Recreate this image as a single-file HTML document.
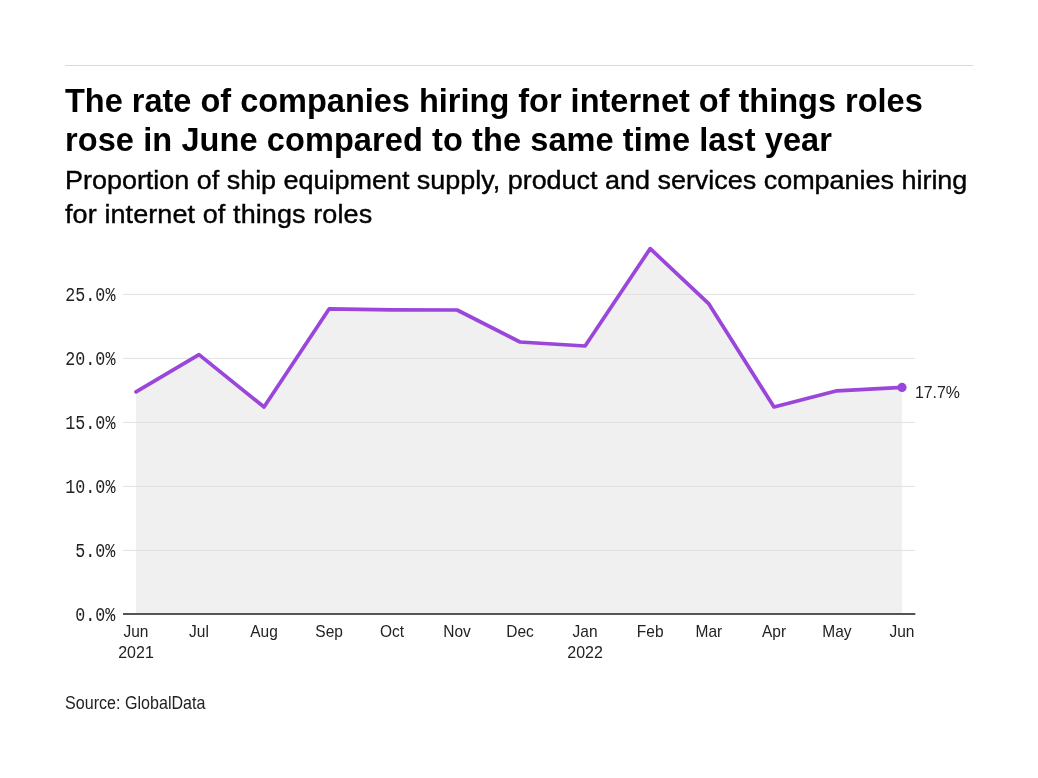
<!DOCTYPE html>
<html>
<head>
<meta charset="utf-8">
<style>
html,body{margin:0;padding:0;background:#fff;width:1038px;height:778px;overflow:hidden;}
svg{display:block;will-change:transform;}
.t{font-family:"Liberation Sans",sans-serif;font-weight:bold;font-size:32.5px;fill:#000;}
.s{font-family:"Liberation Sans",sans-serif;font-size:27px;fill:#000;stroke:#000;stroke-width:0.4px;}
.ya{font-family:"Liberation Mono",monospace;font-size:16.7px;fill:#222;}
.xa{font-family:"Liberation Sans",sans-serif;font-size:15.5px;fill:#222;}
.yr{font-family:"Liberation Sans",sans-serif;font-size:16px;fill:#222;}
.lb{font-family:"Liberation Sans",sans-serif;font-size:15.9px;fill:#222;}
.src{font-family:"Liberation Sans",sans-serif;font-size:16.1px;fill:#222;}
</style>
</head>
<body>
<svg width="1038" height="778" viewBox="0 0 1038 778">
  <rect x="65" y="65" width="908" height="1" fill="#dadada"/>
  <text class="t" x="65" y="111.7">The rate of companies hiring for internet of things roles</text>
  <text class="t" x="65" y="150.8" letter-spacing="0.1">rose in June compared to the same time last year</text>
  <text class="s" transform="translate(65,189.3) scale(1,0.97)" letter-spacing="-0.02">Proportion of ship equipment supply, product and services companies hiring</text>
  <text class="s" transform="translate(65,223.1) scale(1,0.97)" letter-spacing="0.1">for internet of things roles</text>
  <polygon fill="#f0f0f0" points="136,614 136.0,391.9 199.0,354.6 264.0,407.0 329.1,308.9 392.0,309.8 457.1,310.0 520.0,342.0 585.1,346.0 650.2,248.6 708.9,303.9 774.0,407.0 836.9,390.8 902.0,387.4 902,614"/>
  <g fill="#e0e0e0">
  <rect x="123" y="293.9" width="792" height="1"/>
  <rect x="123" y="357.9" width="792" height="1"/>
  <rect x="123" y="421.9" width="792" height="1"/>
  <rect x="123" y="485.9" width="792" height="1"/>
  <rect x="123" y="549.9" width="792" height="1"/>
  </g>
  <rect x="123" y="613" width="792.3" height="2" fill="#555"/>
  <polyline fill="none" stroke="#9b46db" stroke-width="3.7" stroke-linejoin="round" stroke-linecap="round" points="136.0,391.9 199.0,354.6 264.0,407.0 329.1,308.9 392.0,309.8 457.1,310.0 520.0,342.0 585.1,346.0 650.2,248.6 708.9,303.9 774.0,407.0 836.9,390.8 902.0,387.4"/>
  <circle cx="902" cy="387.4" r="4.6" fill="#9b46db"/>
  <text class="lb" transform="translate(914.9,398.2) scale(1,1.06)">17.7%</text>
<text class="ya" text-anchor="end" transform="translate(115.4,300.9) scale(1,1.16)">25.0%</text>
<text class="ya" text-anchor="end" transform="translate(115.4,364.9) scale(1,1.16)">20.0%</text>
<text class="ya" text-anchor="end" transform="translate(115.4,428.9) scale(1,1.16)">15.0%</text>
<text class="ya" text-anchor="end" transform="translate(115.4,492.9) scale(1,1.16)">10.0%</text>
<text class="ya" text-anchor="end" transform="translate(115.4,556.9) scale(1,1.16)">5.0%</text>
<text class="ya" text-anchor="end" transform="translate(115.4,620.9) scale(1,1.16)">0.0%</text>
<text class="xa" text-anchor="middle" transform="translate(136.0,637.2) scale(1,1.08)">Jun</text>
<text class="xa" text-anchor="middle" transform="translate(199.0,637.2) scale(1,1.08)">Jul</text>
<text class="xa" text-anchor="middle" transform="translate(264.0,637.2) scale(1,1.08)">Aug</text>
<text class="xa" text-anchor="middle" transform="translate(329.1,637.2) scale(1,1.08)">Sep</text>
<text class="xa" text-anchor="middle" transform="translate(392.0,637.2) scale(1,1.08)">Oct</text>
<text class="xa" text-anchor="middle" transform="translate(457.1,637.2) scale(1,1.08)">Nov</text>
<text class="xa" text-anchor="middle" transform="translate(520.0,637.2) scale(1,1.08)">Dec</text>
<text class="xa" text-anchor="middle" transform="translate(585.1,637.2) scale(1,1.08)">Jan</text>
<text class="xa" text-anchor="middle" transform="translate(650.2,637.2) scale(1,1.08)">Feb</text>
<text class="xa" text-anchor="middle" transform="translate(708.9,637.2) scale(1,1.08)">Mar</text>
<text class="xa" text-anchor="middle" transform="translate(774.0,637.2) scale(1,1.08)">Apr</text>
<text class="xa" text-anchor="middle" transform="translate(836.9,637.2) scale(1,1.08)">May</text>
<text class="xa" text-anchor="middle" transform="translate(902.0,637.2) scale(1,1.08)">Jun</text>
<text class="yr" text-anchor="middle" transform="translate(136.0,657.7) scale(1,1.08)">2021</text>
<text class="yr" text-anchor="middle" transform="translate(585.1,657.7) scale(1,1.08)">2022</text>
  <text class="src" transform="translate(65.1,708.8) scale(1,1.12)">Source: GlobalData</text>
</svg>
</body>
</html>
